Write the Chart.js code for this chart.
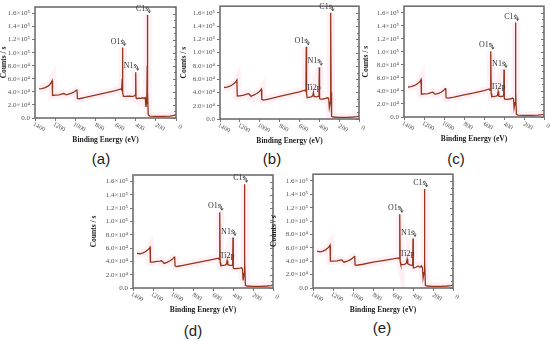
<!DOCTYPE html>
<html>
<head>
<meta charset="utf-8">
<script src="https://cdn.jsdelivr.net/npm/chart.js@4.4.0/dist/chart.umd.min.js"></script>
<style>
  body { margin: 0; background: #fff; width: 550px; height: 341px; position: relative; overflow: hidden; }
  canvas { position: absolute; }
  .tag { position: absolute; font: 15px "Liberation Sans", Arial, sans-serif; color: #222; transform: translate(-50%, -50%); }
</style>
</head>
<body>
<div class="tag" style="left:101px;top:158px">(a)</div>
<div class="tag" style="left:272px;top:158px">(b)</div>
<div class="tag" style="left:456px;top:158px">(c)</div>
<div class="tag" style="left:193px;top:330px">(d)</div>
<div class="tag" style="left:382px;top:327px">(e)</div>
<script>
// binding energy (eV) shared by all five survey spectra
const energies = [1360, 1330, 1300, 1275, 1255, 1240, 1230, 1226, 1200, 1160,
  1130, 1115, 1105, 1095, 1088, 1060, 1030, 1005, 990, 983,
  979, 960, 900, 800, 700, 600, 548, 540, 534, 531,
  528, 522, 500, 480, 466, 459, 452, 430, 410, 403,
  400, 397, 390, 370, 350, 330, 315, 305, 299, 290,
  286, 284, 281, 276, 260, 200, 120, 60, 20, 0]

// counts / s, in units of 10^4
const countsA = [4.45, 4.5, 4.65, 4.85, 5.1, 5.4, 5.7, 3.45, 3.5, 3.55,
  3.7, 3.75, 3.7, 3.6, 3.55, 3.7, 3.85, 4.05, 4.25, 4.35,
  3.0, 2.95, 3.15, 3.5, 3.85, 4.2, 4.45, 4.3, 6.0, 10.8,
  3.9, 3.3, 3.3, 3.35, 3.3, 3.35, 3.3, 3.3, 3.4, 3.6,
  7.0, 3.1, 3.0, 3.05, 3.0, 3.1, 3.0, 3.1, 1.7, 2.5,
  8.0, 15.8, 4.0, 0.5, 0.3, 0.25, 0.25, 0.3, 0.4, 0.5]
const countsB = [4.75, 4.8, 4.95, 5.15, 5.4, 5.6, 5.87, 3.47, 3.5, 3.6,
  3.75, 3.83, 3.75, 3.55, 3.45, 3.6, 3.85, 4.1, 4.35, 4.5,
  2.95, 2.86, 3.05, 3.4, 3.75, 4.1, 4.34, 4.2, 6.0, 10.9,
  3.8, 3.2, 3.3, 3.35, 3.5, 4.0, 3.4, 3.35, 3.4, 3.6,
  7.8, 3.1, 3.0, 3.0, 3.05, 3.15, 3.2, 3.1, 1.7, 2.5,
  8.0, 16.0, 4.0, 0.4, 0.3, 0.25, 0.25, 0.3, 0.35, 0.45]
const countsC = [4.6, 4.65, 4.8, 5.0, 5.25, 5.45, 5.74, 3.5, 3.55, 3.6,
  3.75, 3.8, 3.75, 3.55, 3.5, 3.6, 3.8, 4.05, 4.3, 4.46,
  2.95, 2.9, 3.05, 3.4, 3.7, 4.05, 4.3, 4.1, 6.0, 10.1,
  3.6, 3.1, 3.15, 3.2, 3.3, 3.9, 3.2, 3.15, 3.2, 3.4,
  7.3, 2.9, 2.7, 2.7, 2.75, 2.8, 2.9, 2.8, 1.4, 2.2,
  7.5, 14.5, 3.8, 0.4, 0.3, 0.25, 0.25, 0.3, 0.35, 0.4]
const countsD = [5.2, 5.15, 5.3, 5.45, 5.7, 5.9, 6.13, 3.9, 3.9, 4.0,
  4.05, 4.1, 4.0, 3.8, 3.7, 3.85, 4.1, 4.35, 4.6, 4.74,
  3.3, 3.24, 3.4, 3.7, 4.0, 4.3, 4.48, 4.3, 6.5, 11.4,
  3.8, 3.35, 3.4, 3.45, 3.6, 4.1, 3.5, 3.4, 3.4, 3.6,
  7.6, 3.0, 2.9, 2.9, 2.95, 3.0, 3.05, 2.9, 1.15, 2.2,
  8.0, 15.6, 4.0, 0.4, 0.3, 0.25, 0.25, 0.3, 0.35, 0.45]
const countsE = [5.5, 5.4, 5.5, 5.7, 5.95, 6.15, 6.4, 4.0, 4.0, 4.05,
  4.15, 4.2, 4.1, 3.9, 3.85, 4.0, 4.2, 4.45, 4.65, 4.8,
  3.45, 3.4, 3.55, 3.85, 4.1, 4.35, 4.5, 4.35, 6.5, 11.0,
  3.9, 3.5, 3.5, 3.55, 3.7, 4.3, 3.6, 3.45, 3.4, 3.6,
  7.4, 3.0, 3.0, 3.1, 3.3, 3.1, 3.3, 3.0, 1.5, 2.3,
  7.5, 14.8, 4.0, 0.4, 0.3, 0.25, 0.25, 0.3, 0.35, 0.45]

const xTicks = [1400, 1200, 1000, 800, 600, 400, 200, 0]
const yTicks = [0, 2, 4, 6, 8, 10, 12, 14, 16]
const yTickLabels = ['0.0', '2.0×10⁴', '4.0×10⁴', '6.0×10⁴', '8.0×10⁴', '1.0×10⁵', '1.2×10⁵', '1.4×10⁵', '1.6×10⁵']

const peaksNoTi = ['O1s', 'N1s', 'C1s']
const peaksTi = ['O1s', 'Ti2p', 'N1s', 'C1s']
const peakEnergy = { O1s: 531, Ti2p: 459, N1s: 400, C1s: 284 }

const SERIF = '"Liberation Serif", "Times New Roman", serif'

// left/top of canvas, size, and wanted plot box (page coords)
const panels = [
  { counts: countsA, peaks: peaksNoTi, x: 0, y: 0, w: 185, h: 150, L: 35, R: 176, T: 7, B: 118 },
  { counts: countsB, peaks: peaksTi, x: 180, y: 0, w: 185, h: 150, L: 220, R: 359, T: 6, B: 119 },
  { counts: countsC, peaks: peaksTi, x: 362, y: 0, w: 188, h: 150, L: 404, R: 544, T: 5, B: 117 },
  { counts: countsD, peaks: peaksTi, x: 90, y: 168, w: 190, h: 150, L: 133, R: 273, T: 175, B: 288 },
  { counts: countsE, peaks: peaksTi, x: 270, y: 168, w: 190, h: 150, L: 313, R: 453, T: 174, B: 288 },
]

const decor = {
  id: 'decor',
  afterDraw(chart, args, opts) {
    const ctx = chart.ctx
    const a = chart.chartArea
    const xs = chart.scales.x, ys = chart.scales.y
    ctx.save()

    // right side inner ticks
    ctx.strokeStyle = '#777'
    ctx.lineWidth = 1
    for (let v = 0; v <= 17; v++) {
      const py = Math.round(ys.getPixelForValue(v)) + 0.5
      const len = v % 2 === 0 ? 3 : 2
      ctx.beginPath(); ctx.moveTo(a.right, py); ctx.lineTo(a.right - len, py); ctx.stroke()
    }

    // frame
    ctx.strokeStyle = '#6f6f6f'
    ctx.lineWidth = 1.6
    ctx.strokeRect(a.left, a.top, a.right - a.left, a.bottom - a.top)

    // slanted x tick labels
    ctx.fillStyle = '#555'
    ctx.font = '6.5px ' + SERIF
    ctx.textAlign = 'center'
    ctx.textBaseline = 'middle'
    xTicks.forEach(v => {
      const px = xs.getPixelForValue(v)
      ctx.save()
      ctx.translate(px + 4, a.bottom + 9)
      ctx.rotate(Math.PI / 6)
      ctx.fillText(String(v), 0, 0)
      ctx.restore()
    })

    // x title
    ctx.fillStyle = '#222'
    ctx.font = 'bold 7.5px ' + SERIF
    ctx.fillText('Binding Energy (eV)', (a.left + a.right) / 2, a.bottom + 22)

    // peak labels
    ctx.font = '8px ' + SERIF
    ctx.fillStyle = '#333'
    ctx.strokeStyle = '#444'
    ctx.lineWidth = 0.8
    opts.peaks.forEach(name => {
      const e = peakEnergy[name]
      const i = energies.indexOf(e) >= 0 ? energies.indexOf(e) : energies.findIndex(x => x <= e)
      const px = xs.getPixelForValue(energies[i])
      const py = ys.getPixelForValue(opts.counts[i])
      if (name === 'Ti2p') {
        ctx.textAlign = 'center'
        ctx.textBaseline = 'bottom'
        ctx.fillText(name, px, py - 1)
        return
      }
      ctx.textAlign = 'right'
      ctx.textBaseline = 'bottom'
      ctx.fillText(name, px + 1, py - 2)
      ctx.beginPath()
      ctx.moveTo(px - 0.5, py - 8)
      ctx.quadraticCurveTo(px + 2.5, py - 7, px + 2, py - 2)
      ctx.moveTo(px + 0.5, py - 4)
      ctx.lineTo(px + 2, py - 2)
      ctx.lineTo(px + 3.2, py - 4.2)
      ctx.stroke()
    })
    ctx.restore()
  }
}

panels.forEach(p => {
  const cv = document.createElement('canvas')
  cv.width = p.w; cv.height = p.h
  cv.style.left = p.x + 'px'; cv.style.top = p.y + 'px'
  document.body.appendChild(cv)

  const pts = energies.map((e, i) => ({ x: e, y: p.counts[i] }))

  new Chart(cv.getContext('2d'), {
    type: 'line',
    data: {
      datasets: [
        { data: pts, borderColor: '#94361c', borderWidth: 1.3, pointRadius: 0, tension: 0 },
        { data: pts, borderColor: 'rgba(255, 130, 170, 0.12)', borderWidth: 8, pointRadius: 0, tension: 0 }
      ]
    },
    options: {
      responsive: false,
      animation: false,
      devicePixelRatio: 1,
      layout: { padding: { left: 0, bottom: 0, top: p.T - p.y, right: p.x + p.w - p.R } },
      plugins: { legend: { display: false }, tooltip: { enabled: false }, decor: { peaks: p.peaks, counts: p.counts } },
      scales: {
        x: {
          type: 'linear', min: 0, max: 1400, reverse: true,
          afterBuildTicks: s => { s.ticks = xTicks.map(v => ({ value: v })) },
          afterFit: s => { s.height = p.y + p.h - p.B },
          grid: { drawOnChartArea: false, tickLength: 3, color: '#777' },
          border: { display: false },
          ticks: { color: 'rgba(0,0,0,0)', maxRotation: 0, font: { size: 6 } }
        },
        y: {
          min: 0, max: 17,
          afterBuildTicks: s => { s.ticks = yTicks.map(v => ({ value: v })) },
          afterFit: s => { s.width = p.L - p.x },
          grid: { drawOnChartArea: false, tickLength: 3, color: '#777' },
          border: { display: false },
          ticks: {
            color: '#555', padding: 2,
            font: { family: SERIF, size: 7 },
            callback: v => yTickLabels[yTicks.indexOf(v)]
          },
          title: { display: true, text: 'Counts / s', color: '#222', padding: 0, font: { family: SERIF, size: 7.5, weight: 'bold' } }
        }
      }
    },
    plugins: [decor]
  })
})
</script>
</body>
</html>
